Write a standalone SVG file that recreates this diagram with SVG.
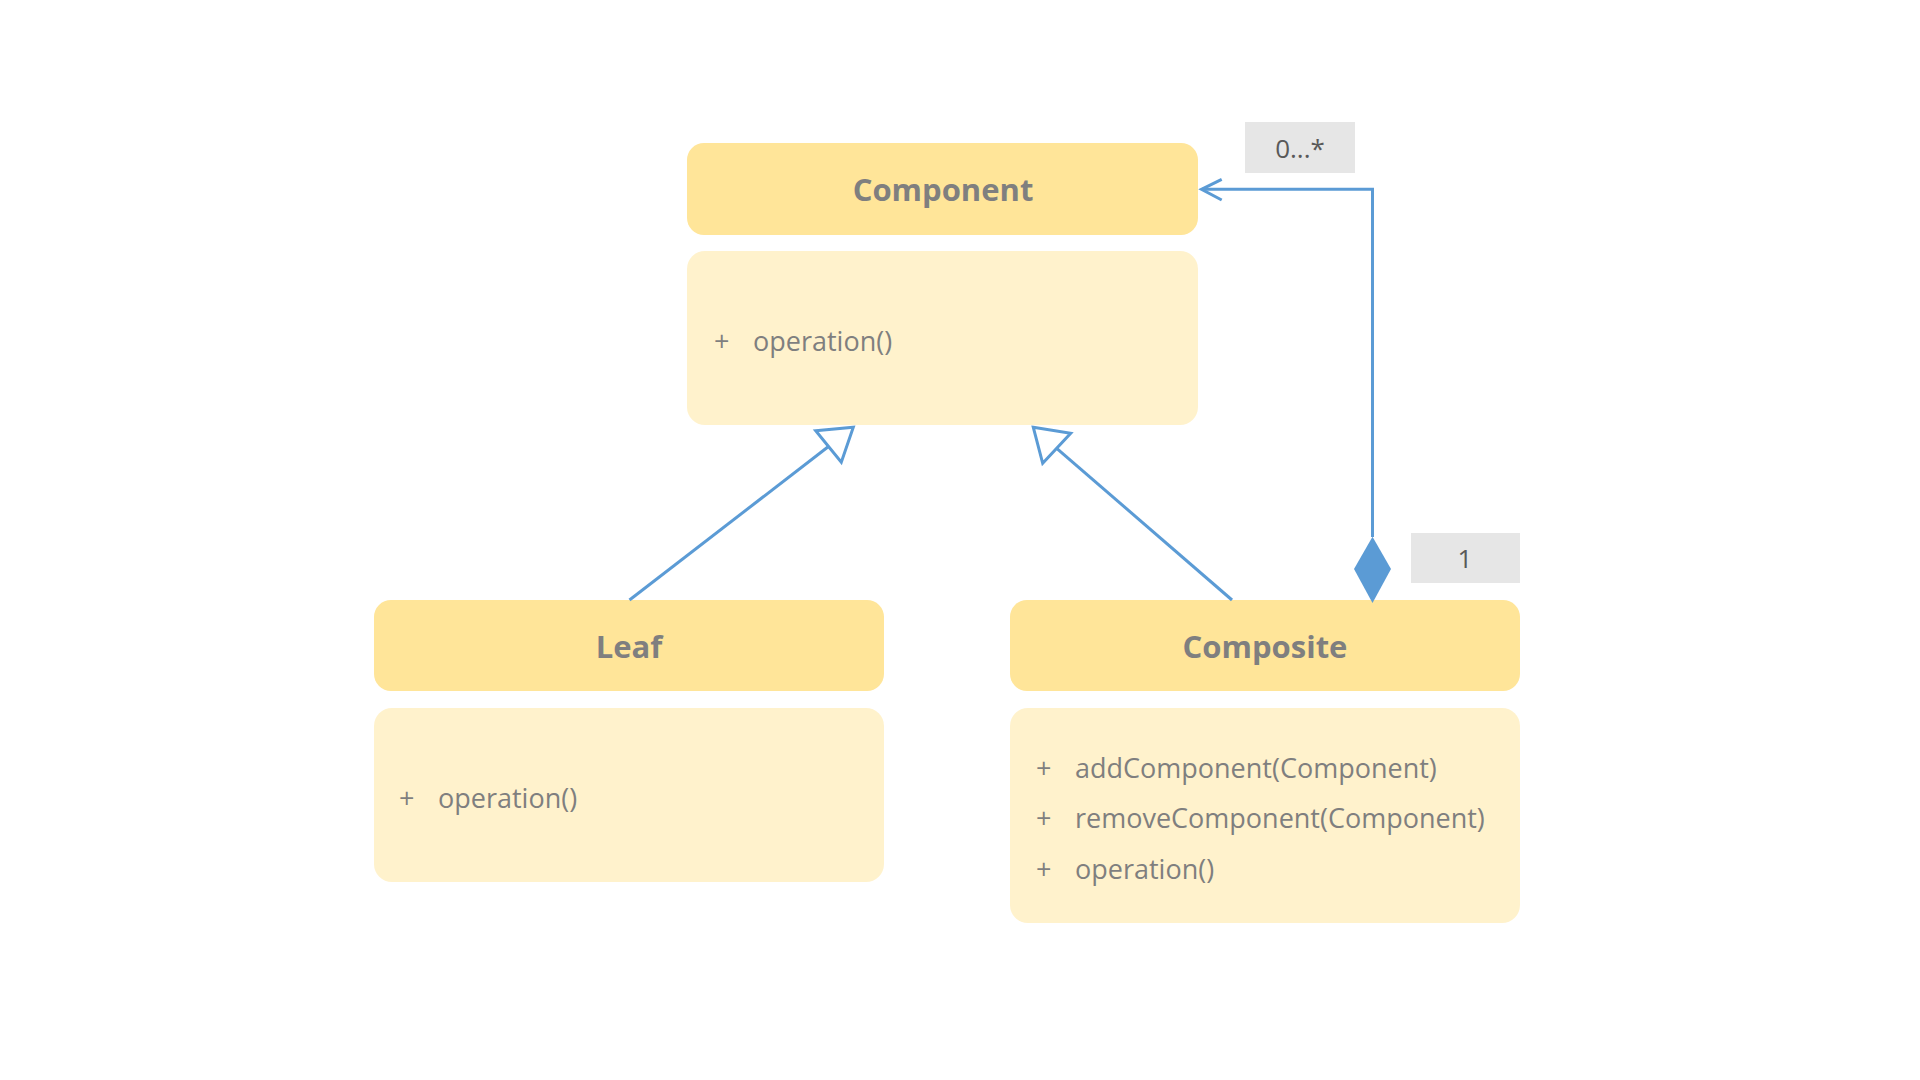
<svg xmlns="http://www.w3.org/2000/svg" width="1920" height="1080" viewBox="0 0 1920 1080">
<style>
.hdr{fill:#FFE599}
.body{fill:#FFF2CC}
.title{font-family:"Open Sans","Noto Sans",sans-serif;font-weight:700;font-size:31px;fill:#7F7F7F;text-anchor:middle}
.op{font-family:"Open Sans","Noto Sans",sans-serif;font-size:27px;fill:#7F7F7F}
.lblbox{fill:#E6E6E6}
.lbl{font-family:"Open Sans","Noto Sans",sans-serif;font-size:26px;fill:#595959;text-anchor:middle}
.conn{stroke:#5B9BD5;stroke-width:3;fill:none}
</style>
<rect width="1920" height="1080" fill="#FFFFFF"/>
<g id="component">
<rect class="hdr" x="687" y="143" width="511" height="92" rx="17"/>
<text class="title" x="943" y="201">Component</text>
<rect class="body" x="687" y="251" width="511" height="174" rx="18"/>
<text class="op" x="714" y="351">+</text>
<text class="op" x="753" y="351">operation()</text>
</g>
<g id="leaf">
<rect class="hdr" x="374" y="600" width="510" height="91" rx="17"/>
<text class="title" x="629" y="658">Leaf</text>
<rect class="body" x="374" y="708" width="510" height="174" rx="18"/>
<text class="op" x="399" y="808">+</text>
<text class="op" x="438" y="808">operation()</text>
</g>
<g id="composite">
<rect class="hdr" x="1010" y="600" width="510" height="91" rx="17"/>
<text class="title" x="1265" y="658">Composite</text>
<rect class="body" x="1010" y="708" width="510" height="215" rx="18"/>
<text class="op" x="1036" y="778">+</text>
<text class="op" x="1075" y="778">addComponent(Component)</text>
<text class="op" x="1036" y="828">+</text>
<text class="op" x="1075" y="828">removeComponent(Component)</text>
<text class="op" x="1036" y="879">+</text>
<text class="op" x="1075" y="879">operation()</text>
</g>
<g id="connectors">
<line class="conn" x1="629.5" y1="600" x2="828.5" y2="446.5"/>
<polygon class="conn" style="fill:#FFFFFF" points="815.7,430.7 853.3,427.3 841.3,462.3"/>
<line class="conn" x1="1232" y1="600" x2="1056.7" y2="448.3"/>
<polygon class="conn" style="fill:#FFFFFF" points="1033.3,427.3 1070.7,433.3 1042.7,463.3"/>
<polyline class="conn" points="1372.5,537 1372.5,189.3 1202,189.3"/>
<polyline class="conn" points="1221.7,179.3 1201.5,189.3 1221.7,200"/>
<polygon fill="#5B9BD5" points="1372.5,536.7 1391,569 1372.5,603 1354,569"/>
</g>
<g id="label-many">
<rect class="lblbox" x="1245" y="122" width="110" height="51"/>
<text class="lbl" x="1300" y="158">0...*</text>
</g>
<g id="label-one">
<rect class="lblbox" x="1411" y="533" width="109" height="50"/>
<text class="lbl" x="1465" y="568">1</text>
</g>
</svg>
